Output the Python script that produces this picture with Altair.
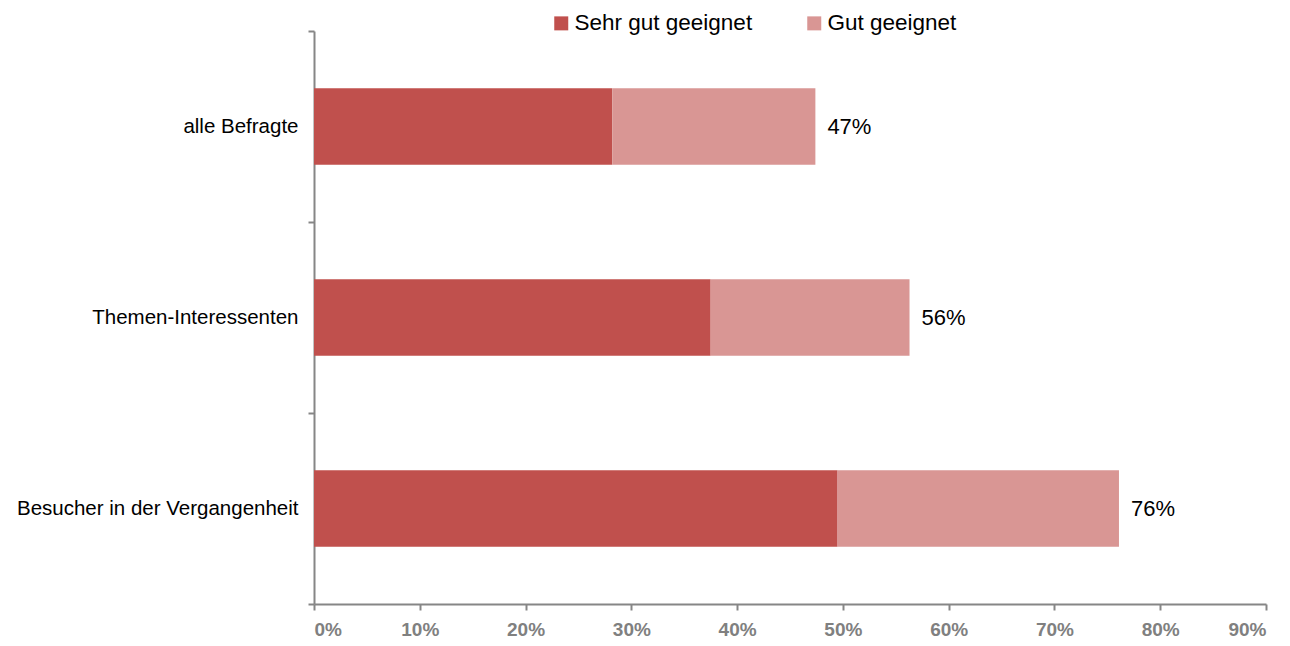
import altair as alt
import pandas as pd

categories = ["alle Befragte", "Themen-Interessenten", "Besucher in der Vergangenheit"]
series = ["Sehr gut geeignet", "Gut geeignet"]
sehr_gut = [28.2, 37.5, 49.5]
gut = [19.2, 18.8, 26.6]
total_labels = ["47%", "56%", "76%"]
colors = ["#C0504D", "#D99694"]
x_ticks = [0, 10, 20, 30, 40, 50, 60, 70, 80, 90]

rows = []
for i, c in enumerate(categories):
    rows.append({"cat": c, "series": series[0], "order": 0, "val": sehr_gut[i]})
    rows.append({"cat": c, "series": series[1], "order": 1, "val": gut[i]})
df = pd.DataFrame(rows)

tot = pd.DataFrame({
    "cat": categories,
    "total": [a + b for a, b in zip(sehr_gut, gut)],
    "label": total_labels,
})

FONT = "Liberation Sans"

y_enc = alt.Y(
    "cat:N",
    sort=categories,
    title=None,
    scale=alt.Scale(paddingInner=0, paddingOuter=0),
    axis=alt.Axis(
        tickBand="extent",
        labelFont=FONT,
        labelFontSize=20.5,
        labelColor="#000000",
        labelPadding=10,
        labelLimit=0,
        tickSize=6,
        tickColor="#868686",
        domainColor="#868686",
        tickWidth=2,
        domainWidth=2,
        grid=False,
    ),
)

bars = alt.Chart(df).mark_bar(height={"band": 0.4}).encode(
    y=y_enc,
    x=alt.X(
        "val:Q",
        stack="zero",
        title=None,
        scale=alt.Scale(domain=[0, 90], nice=False),
        axis=alt.Axis(
            values=x_ticks,
            labelExpr="datum.value + '%'",
            labelFont=FONT,
            labelFontSize=19,
            labelFontWeight="bold",
            labelColor="#808080",
            labelPadding=10,
            tickSize=6,
            tickColor="#868686",
            domainColor="#868686",
            tickWidth=2,
            domainWidth=2,
            grid=False,
        ),
    ),
    color=alt.Color(
        "series:N",
        sort=series,
        scale=alt.Scale(domain=series, range=colors),
        legend=alt.Legend(
            title=None,
            orient="none",
            direction="horizontal",
            legendX=236,
            legendY=-19,
            symbolType="square",
            symbolSize=196,
            symbolStrokeWidth=0,
            labelFont=FONT,
            labelFontSize=22.5,
            labelColor="#000000",
            labelOffset=2,
            labelLimit=0,
            columnPadding=50,
        ),
    ),
    order=alt.Order("order:Q"),
)

text = alt.Chart(tot).mark_text(
    align="left", baseline="middle", dx=12, font=FONT, fontSize=22, color="#000000"
).encode(
    y=alt.Y("cat:N", sort=categories),
    x=alt.X("total:Q"),
    text="label:N",
)

chart = (
    alt.layer(bars, text)
    .properties(
        width=952,
        height=573,
        autosize=alt.AutoSizeParams(type="none"),
        padding={"left": 306, "top": 23, "right": 16, "bottom": 34},
        view=alt.ViewBackground(stroke="transparent", strokeWidth=0),
    )
    .configure_view(stroke="transparent", strokeWidth=0)
    .configure(background="white")
)

chart.save("out.html", embed_options={"renderer": "svg", "actions": False})
